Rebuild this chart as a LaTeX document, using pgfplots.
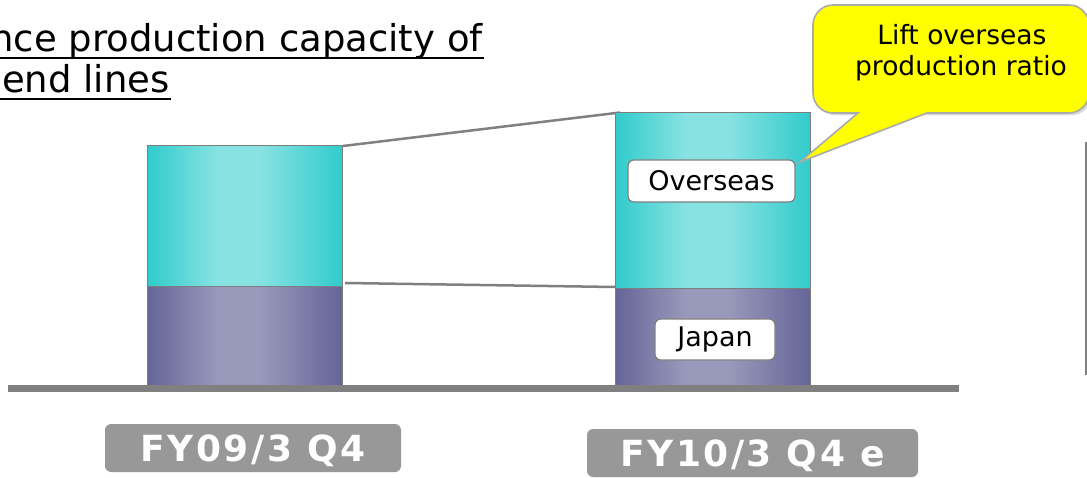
\documentclass[border=0pt]{standalone}
\usepackage{fontspec}
\setmainfont{DejaVu Sans}
\newfontfamily\lblfont[LetterSpace=7]{DejaVu Sans}
\usepackage{pgfplots}
\pgfplotsset{compat=1.18}
\definecolor{tdark}{RGB}{51,204,204}
\definecolor{tlight}{RGB}{136,226,226}
\definecolor{jdark}{RGB}{102,102,153}
\definecolor{jlight}{RGB}{153,153,187}
\definecolor{linegray}{RGB}{128,128,128}
\definecolor{barborder}{RGB}{125,125,125}
\definecolor{boxgray}{RGB}{152,152,152}
\definecolor{calloutborder}{RGB}{170,170,170}
\definecolor{calloutyellow}{RGB}{255,255,0}
\pgfdeclarehorizontalshading{tealbar}{100bp}{color(0bp)=(tdark); color(25.5bp)=(tdark); color(43bp)=(tlight); color(54bp)=(tlight); color(74.5bp)=(tdark); color(100bp)=(tdark)}
\pgfdeclarehorizontalshading{japanbar}{100bp}{color(0bp)=(jdark); color(25.5bp)=(jdark); color(43bp)=(jlight); color(54bp)=(jlight); color(74.5bp)=(jdark); color(100bp)=(jdark)}
\pgfplotsset{
  slidebars/.style={
    at={(0,0)}, anchor=south west,
    width=543.5pt, height=238.5pt, scale only axis,
    xmin=0, xmax=1087, ymin=-92, ymax=385,
    clip=false,
    ybar stacked, bar width=195,
    axis line style={draw=none},
    tick style={draw=none}, major tick length=0pt,
    ytick=\empty,
  },
  japan/.style={shade, shading=japanbar, draw=barborder, line width=0.5pt},
  overseas/.style={shade, shading=tealbar, draw=barborder, line width=0.5pt},
}
\begin{document}
\begin{tikzpicture}
\useasboundingbox (0,0) rectangle (543.5pt,238.5pt);
% connector lines (pixel coordinates, origin top-left), behind the bars
\begin{scope}[x=0.5pt, y=-0.5pt, yshift=238.5pt]
\draw[linegray, line width=1.25pt] (343,146) -- (620,112.5);
\draw[linegray, line width=1.25pt] (345,283) -- (615,287);
\end{scope}
% FY09/3 Q4: Japan (bottom), Overseas (top)
\begin{axis}[slidebars,
  xtick={253}, xticklabels={FY09/3 Q4},
  xticklabel style={font=\lblfont\bfseries\fontsize{18}{20}\selectfont, text=white, fill=boxgray,
    rounded corners=3pt, anchor=center, yshift=14.5pt, minimum width=148pt, minimum height=24pt,
    inner ysep=0pt, text height=13.1pt, text depth=0pt},
  extra x ticks={752.5}, extra x tick labels={FY10/3 Q4 e},
  extra x tick style={xticklabel style={yshift=-2.5pt, minimum width=165.5pt}},
]
\addplot[japan] coordinates {(244.5,98)};
\addplot[overseas] coordinates {(244.5,141)};
\end{axis}
% FY10/3 Q4 e: Japan (bottom), Overseas (top)
\begin{axis}[slidebars, xtick=\empty]
\addplot[japan] coordinates {(712.5,96)};
\addplot[overseas] coordinates {(712.5,176)};
\end{axis}
\begin{scope}[x=0.5pt, y=-0.5pt, yshift=238.5pt]
% baseline
\draw[linegray, line width=3.5pt] (8,388.5) -- (959,388.5);
% labels inside bar
\node[draw=linegray, fill=white, rounded corners=3pt, minimum width=83.5pt, minimum height=21pt,
  inner sep=0pt, line width=0.6pt, font=\fontsize{13.5}{16}\selectfont] at (711.5,181) {Overseas};
\node[draw=linegray, fill=white, rounded corners=3pt, minimum width=60pt, minimum height=20.5pt,
  inner sep=0pt, line width=0.6pt, font=\fontsize{13.5}{16}\selectfont] at (715,339.5) {Japan};
% callout
\fill[black!14, xshift=1.2pt, yshift=-1.2pt, rounded corners=10pt] (1089,113) -- (1089,5) -- (813,5) -- (813,113) -- cycle;
\draw[fill=calloutyellow, draw=calloutborder, line width=0.8pt]
  (858,113) -- (800,162) -- (927,113)
  [rounded corners=10pt] -- (1089,113) -- (1089,5) -- (813,5) -- (813,113)
  [sharp corners] -- cycle;
\node[anchor=base, font=\fontsize{13.25}{16}\selectfont] at (962,45) {Lift overseas};
\node[anchor=base, font=\fontsize{13.25}{16}\selectfont] at (961,76) {production ratio};
% title (cut at left edge)
\node[anchor=base east, inner sep=0pt, font=\fontsize{18.5}{22}\selectfont] at (483,52) {nce production capacity of};
\draw[black, line width=1.3pt] (0,58) -- (484,58);
\node[anchor=base east, inner sep=0pt, font=\fontsize{18.5}{22}\selectfont] at (170,93) {end lines};
\draw[black, line width=1.3pt] (0,99) -- (171,99);
% right edge box line
\draw[linegray, line width=0.8pt] (1086,142) -- (1086,375);
\end{scope}
\end{tikzpicture}
\end{document}
